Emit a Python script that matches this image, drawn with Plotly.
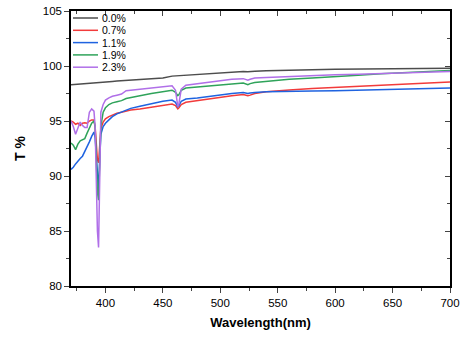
import plotly.graph_objects as go

wavelength = [370, 372, 374, 376, 378, 380, 382, 384, 386, 388, 390, 391, 392, 393, 394, 395,
              396, 398, 400, 403, 406, 410, 414, 418, 422, 430, 440, 450, 458, 461, 463, 464,
              466, 470, 480, 490, 500, 510, 520, 524, 526, 530, 540, 550, 560, 580, 600, 620,
              640, 660, 680, 700]

t_00 = [98.30, 98.32, 98.33, 98.35, 98.36, 98.38, 98.40, 98.41, 98.43, 98.45, 98.47, 98.47,
        98.48, 98.48, 98.49, 98.50, 98.50, 98.52, 98.55, 98.57, 98.60, 98.63, 98.66, 98.70,
        98.73, 98.78, 98.84, 98.90, 99.08, 99.10, 99.11, 99.12, 99.13, 99.18, 99.26, 99.33,
        99.40, 99.45, 99.50, 99.48, 99.51, 99.53, 99.56, 99.60, 99.62, 99.66, 99.70, 99.72,
        99.74, 99.76, 99.78, 99.80]

t_07 = [95.0, 94.9, 94.7, 94.8, 94.6, 94.8, 94.85, 94.8, 95.0, 95.1, 95.1, 94.5, 93.0, 91.5,
        91.2, 93.0, 94.3, 94.9, 95.2, 95.4, 95.55, 95.7, 95.8, 95.9, 96.0, 96.1, 96.25, 96.45,
        96.55, 96.4, 96.1, 96.2, 96.5, 96.7, 96.85, 97.05, 97.2, 97.3, 97.4, 97.3, 97.35, 97.5,
        97.65, 97.75, 97.82, 97.95, 98.05, 98.15, 98.25, 98.35, 98.45, 98.55]

t_11 = [90.6, 90.8, 91.1, 91.4, 91.6, 91.8, 92.2, 92.6, 93.1, 93.6, 94.0, 93.5, 91.5, 89.5,
        88.7, 91.5, 93.8, 94.5, 94.8, 95.1, 95.4, 95.65, 95.8, 96.0, 96.15, 96.35, 96.6, 96.8,
        96.9, 96.7, 96.3, 96.4, 96.8, 97.0, 97.1, 97.25, 97.4, 97.5, 97.6, 97.5, 97.55, 97.6,
        97.65, 97.68, 97.7, 97.72, 97.75, 97.8, 97.85, 97.9, 97.95, 98.0]

t_19 = [93.0, 92.8, 92.4, 92.9, 93.2, 93.3, 93.4, 93.9, 94.3, 94.8, 95.0, 94.5, 91.5, 88.5,
        87.8, 91.5, 94.5, 95.8, 96.2, 96.5, 96.65, 96.75, 96.85, 97.05, 97.15, 97.3, 97.5, 97.65,
        97.8, 97.6, 97.3, 97.4, 97.8, 98.0, 98.1, 98.2, 98.3, 98.4, 98.45, 98.3, 98.4, 98.5,
        98.6, 98.7, 98.8, 98.9, 99.0, 99.15, 99.3, 99.4, 99.5, 99.6]

t_23 = [95.0, 94.5, 93.8, 94.4, 94.9, 94.6, 94.4, 94.4, 95.8, 96.1, 95.9, 94.5, 90.0, 85.0,
        83.5, 90.0, 95.8, 96.5, 96.9, 97.1, 97.25, 97.35, 97.45, 97.75, 97.8, 97.9, 98.0, 98.1,
        98.2, 97.8, 96.3, 96.6, 97.9, 98.25, 98.4, 98.55, 98.7, 98.8, 98.85, 98.7, 98.8, 98.9,
        98.95, 99.0, 99.05, 99.15, 99.2, 99.25, 99.3, 99.35, 99.42, 99.5]

series_names = ["0.0%", "0.7%", "1.1%", "1.9%", "2.3%"]
series_values = [t_00, t_07, t_11, t_19, t_23]
series_colors = ["#4d4d4d", "#f23b3b", "#1f63e0", "#2fa35a", "#b06fe8"]

x_ticks = [400, 450, 500, 550, 600, 650, 700]
y_ticks = [80, 85, 90, 95, 100, 105]

font_family = "Liberation Sans, Arial, sans-serif"

fig = go.Figure()
for name, vals, col in zip(series_names, series_values, series_colors):
    fig.add_trace(go.Scatter(x=wavelength, y=vals, mode="lines", name=name,
                             line=dict(color=col, width=1.5), showlegend=False))

# invisible trace to anchor mirrored axes
fig.add_trace(go.Scatter(x=[370], y=[80], xaxis="x2", yaxis="y2", mode="markers",
                         marker=dict(opacity=0), showlegend=False, hoverinfo="skip"))

# compact legend drawn in paper coordinates (plot area: 379 x 275 px)
plot_w, plot_h = 379.0, 275.0
leg_x0, leg_x1, leg_tx = 2 / plot_w, 27 / plot_w, 29 / plot_w
shapes, annotations = [], []
for i, (name, col) in enumerate(zip(series_names, series_colors)):
    yy = 1 - (7 + 12.3 * i) / plot_h
    shapes.append(dict(type="line", xref="paper", yref="paper", x0=leg_x0, x1=leg_x1,
                       y0=yy, y1=yy, line=dict(color=col, width=1.5)))
    annotations.append(dict(xref="paper", yref="paper", x=leg_tx, y=yy, text=name,
                            showarrow=False, xanchor="left", yanchor="middle",
                            font=dict(size=10.5, family=font_family, color="black")))

fig.update_layout(
    width=469, height=348,
    margin=dict(l=71, r=19, t=11, b=62, autoexpand=False),
    plot_bgcolor="white", paper_bgcolor="white",
    font=dict(family=font_family, color="black", size=11),
    showlegend=False,
    shapes=shapes, annotations=annotations,
    xaxis=dict(range=[370, 700], tickvals=x_ticks, ticks="outside", ticklen=5, tickwidth=1,
               showline=True, linecolor="black", linewidth=1.5, showgrid=False, zeroline=False,
               automargin=False,
               minor=dict(dtick=25, tick0=0, ticks="outside", ticklen=3, showgrid=False),
               title=dict(text="<b>Wavelength(nm)</b>", font=dict(size=13), standoff=10),
               tickfont=dict(size=11.5)),
    yaxis=dict(range=[80, 105], tickvals=y_ticks, ticks="outside", ticklen=5, tickwidth=1,
               showline=True, linecolor="black", linewidth=1.5, showgrid=False, zeroline=False,
               automargin=False,
               minor=dict(dtick=2.5, tick0=0, ticks="outside", ticklen=3, showgrid=False),
               title=dict(text="<b>T %</b>", font=dict(size=14), standoff=14),
               tickfont=dict(size=11.5)),
    xaxis2=dict(range=[370, 700], overlaying="x", side="top", anchor="y", tickvals=x_ticks,
                ticks="inside", ticklen=5, showticklabels=False, showline=True,
                automargin=False,
                linecolor="black", linewidth=1.5, showgrid=False, zeroline=False,
                minor=dict(dtick=25, tick0=0, ticks="inside", ticklen=3, showgrid=False)),
    yaxis2=dict(range=[80, 105], overlaying="y", side="right", anchor="x", tickvals=y_ticks,
                ticks="inside", ticklen=5, showticklabels=False, showline=True,
                automargin=False,
                linecolor="black", linewidth=1.5, showgrid=False, zeroline=False,
                minor=dict(dtick=2.5, tick0=0, ticks="inside", ticklen=3, showgrid=False)),
)

fig.write_html("out.html")
